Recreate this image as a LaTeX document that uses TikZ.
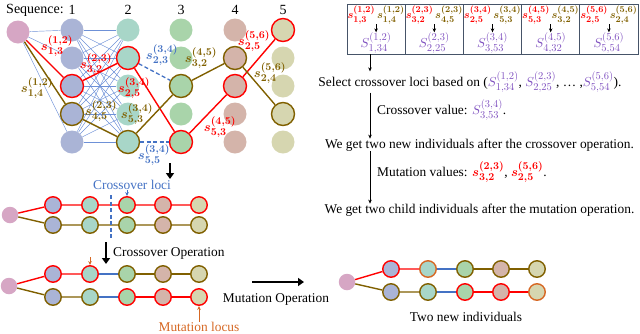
\documentclass[tikz,border=0pt]{standalone}
\usepackage{fontspec}
\setmainfont{Liberation Serif}
\usetikzlibrary{arrows.meta}
\DeclareFontShape{OML}{cmm}{m}{it}{<->cmmi10}{}
\DeclareFontShape{OML}{cmm}{b}{it}{<->cmmib10}{}
\DeclareFontShape{OT1}{cmr}{m}{n}{<->cmr10}{}
\DeclareFontShape{OT1}{cmr}{bx}{n}{<->cmbx10}{}
\DeclareFontShape{OMS}{cmsy}{m}{n}{<->cmsy10}{}
\DeclareFontShape{OMS}{cmsy}{b}{n}{<->cmbsy10}{}
\DeclareMathSizes{13}{13}{10.5}{7.5}
\DeclareMathSizes{11}{11}{9}{6.5}
\definecolor{rd}{RGB}{255,0,0}
\definecolor{br}{RGB}{128,96,0}
\definecolor{blu}{RGB}{68,114,196}
\definecolor{blt}{RGB}{110,145,215}
\definecolor{pu}{RGB}{128,82,192}
\definecolor{orng}{RGB}{214,104,36}
\definecolor{boxc}{RGB}{70,84,104}
\definecolor{cst}{RGB}{214,166,196}
\definecolor{col1}{RGB}{170,180,214}
\definecolor{col2}{RGB}{168,214,200}
\definecolor{col3}{RGB}{169,212,170}
\definecolor{col4}{RGB}{212,180,170}
\definecolor{col5}{RGB}{214,214,176}
\newcommand\tf{\fontsize{13.4}{16}\selectfont}
\newcommand\mth[1]{{\fontsize{13}{16}\selectfont$#1$}}
\newcommand\bmth[1]{{\fontsize{13}{16}\selectfont\boldmath$#1$}}
\begin{document}
\begin{tikzpicture}[x=1pt,y=-1pt,
 nd/.style={circle,minimum size=23pt,inner sep=0pt},
 sm/.style={circle,minimum size=16.5pt,inner sep=0pt},
 rb/.style={draw=rd,line width=1.4pt},
 bb/.style={draw=br,line width=1.4pt},
 ob/.style={draw=orng,line width=1.4pt},
 thinl/.style={draw=blt,line width=0.45pt},
 rl/.style={draw=rd,line width=1.4pt},
 brl/.style={draw=br,line width=1.4pt},
 bll/.style={draw=blu,line width=1.2pt},
 bdl/.style={draw=blu,line width=1.3pt,dash pattern=on 4pt off 2.5pt},
 lab/.style={inner sep=0pt,font=\fontsize{13}{15}\selectfont\boldmath},
 clab/.style={inner sep=0pt,font=\fontsize{11}{13}\selectfont\boldmath},
 plab/.style={inner sep=0pt,text=pu,font=\fontsize{13}{15}\selectfont},
 txt/.style={inner sep=0pt,font=\tf},
 cell/.style={draw=boxc,line width=0.8pt,minimum width=58.2pt,minimum height=50pt,inner sep=0pt},
 bigarr/.style={line width=2.6pt,-{Triangle[width=8pt,length=6pt]}},
 sarr/.style={-{Stealth[length=4pt,width=3.5pt]},line width=0.6pt},
]
\useasboundingbox (0,0) rectangle (640,333);
% ---------- header
\node[txt,font=\fontsize{14}{16}\selectfont] (seq) at (35,10) {Sequence:};
\foreach \c/\x in {1/72,2/128,3/181,4/235,5/283}
  \node[txt,font=\fontsize{14}{16}\selectfont] (h\c) at (\x,10) {\c};
% ---------- network nodes
\node[nd,fill=cst] (st) at (18,32) {};
\node[nd,fill=col1] (n11) at (72,30) {};
\node[nd,fill=col1] (n12) at (72,58) {};
\node[nd,fill=col1,rb] (n13) at (72,86) {};
\node[nd,fill=col1,bb] (n14) at (72,114) {};
\node[nd,fill=col1] (n15) at (72,142) {};
\node[nd,fill=col2] (n21) at (128,30) {};
\node[nd,fill=col2,rb] (n22) at (128,58) {};
\node[nd,fill=col2] (n23) at (128,86) {};
\node[nd,fill=col2] (n24) at (128,114) {};
\node[nd,fill=col2,bb] (n25) at (128,142) {};
\node[nd,fill=col3] (n31) at (181,30) {};
\node[nd,fill=col3] (n32) at (181,58) {};
\node[nd,fill=col3,bb] (n33) at (181,86) {};
\node[nd,fill=col3] (n34) at (181,114) {};
\node[nd,fill=col3,rb] (n35) at (181,142) {};
\node[nd,fill=col4] (n41) at (235,30) {};
\node[nd,fill=col4,bb] (n42) at (235,58) {};
\node[nd,fill=col4,rb] (n43) at (235,86) {};
\node[nd,fill=col4] (n44) at (235,114) {};
\node[nd,fill=col4] (n45) at (235,142) {};
\node[nd,fill=col5,rb] (n51) at (283,30) {};
\node[nd,fill=col5] (n52) at (283,58) {};
\node[nd,fill=col5] (n53) at (283,86) {};
\node[nd,fill=col5,bb] (n54) at (283,114) {};
\node[nd,fill=col5] (n55) at (283,142) {};
% thin lines
\foreach \i in {1,...,5} {
  \draw[thinl] (st) -- (n1\i);
  \foreach \j in {1,...,5} \draw[thinl] (n1\i) -- (n2\j);
}
% dashed blue
\draw[bdl] (n22) -- (n33);
\draw[bdl] (n25) -- (n35);
% paths
\draw[rl] (st) -- (n13) -- (n22) -- (n35) -- (n43) -- (n51);
\draw[brl] (st) -- (n14) -- (n25) -- (n33) -- (n42) -- (n54);
% labels
\node[lab,text=rd] (l1) at (57,46) {$s^{(1,2)}_{1,3}$};
\node[lab,text=br] (l2) at (37,88) {$s^{(1,2)}_{1,4}$};
\node[lab,text=rd] (l3) at (96,64) {$s^{(2,3)}_{3,2}$};
\node[lab,text=br] (l4) at (101,111) {$s^{(2,3)}_{4,5}$};
\node[lab,text=rd] (l5) at (134,88) {$s^{(3,4)}_{2,5}$};
\node[lab,text=br] (l6) at (137,114) {$s^{(3,4)}_{5,3}$};
\node[lab,text=blu] (l7) at (162,55) {$s^{(3,4)}_{2,3}$};
\node[lab,text=blu] (l8) at (154,155) {$s^{(3,4)}_{5,5}$};
\node[lab,text=br] (l9) at (201,58) {$s^{(4,5)}_{3,2}$};
\node[lab,text=rd] (l10) at (220,127) {$s^{(4,5)}_{5,3}$};
\node[lab,text=rd] (l11) at (254,41) {$s^{(5,6)}_{2,5}$};
\node[lab,text=br] (l12) at (270,73) {$s^{(5,6)}_{2,4}$};
% big arrow down
\coordinate (ba1) at (170,163);
\coordinate (ba2) at (170,179);
\draw[bigarr] (ba1) -- (ba2);
% ---------- pair 1
\node[sm,fill=cst] (p1) at (10,215) {};
\foreach \i/\x in {1/53,2/90,3/127,4/163,5/199} {
  \node[sm,fill=col\i,rb] (a\i) at (\x,205) {};
  \node[sm,fill=col\i,bb] (b\i) at (\x,225) {};
}
\draw[rl] (p1) -- (a1) -- (a2) -- (a3) -- (a4) -- (a5);
\draw[brl] (p1) -- (b1) -- (b2) -- (b3) -- (b4) -- (b5);
\coordinate (cl1) at (111,195);
\coordinate (cl2) at (111,238);
\draw[bdl] (cl1) -- (cl2);
\node[txt,text=blu] (clt) at (132,185) {Crossover loci};
\draw[sarr,blu] (clt.south -| a3) -- (a3.north);
% crossover operation
\coordinate (co1) at (106,242);
\coordinate (co2) at (106,264);
\draw[bigarr] (co1) -- (co2);
\node[txt,anchor=west] (cot) at (113,253) {Crossover Operation};
% ---------- pair 2
\node[sm,fill=cst] (p2) at (9,286) {};
\node[sm,fill=col1,rb] (c1) at (53,274) {};
\node[sm,fill=col2,rb] (c2) at (90,274) {};
\node[sm,fill=col3,bb] (c3) at (127,274) {};
\node[sm,fill=col4,bb] (c4) at (163,274) {};
\node[sm,fill=col5,bb] (c5) at (199,274) {};
\node[sm,fill=col1,bb] (d1) at (53,297) {};
\node[sm,fill=col2,bb] (d2) at (90,297) {};
\node[sm,fill=col3,rb] (d3) at (127,297) {};
\node[sm,fill=col4,rb] (d4) at (163,297) {};
\node[sm,fill=col5,rb] (d5) at (199,297) {};
\draw[rl] (p2) -- (c1) -- (c2);
\draw[bll] (c2) -- (c3);
\draw[brl] (c3) -- (c4) -- (c5);
\draw[brl] (p2) -- (d1) -- (d2);
\draw[bll] (d2) -- (d3);
\draw[rl] (d3) -- (d4) -- (d5);
\coordinate (m1) at (90,257);
\draw[sarr,orng] (m1) -- (c2.north);
\node[txt,text=orng] (ml) at (199,327) {Mutation locus};
\draw[sarr,orng] (ml.north) -- (d5.south);
% mutation operation
\coordinate (mo1) at (252,282);
\coordinate (mo2) at (304,282);
\draw[bigarr] (mo1) -- (mo2);
\node[txt] (mot) at (276,299) {Mutation Operation};
% ---------- pair 3
\node[sm,fill=cst] (p3) at (347,282) {};
\node[sm,fill=col1,rb] (e1) at (391,269) {};
\node[sm,fill=col2,ob] (e2) at (428,269) {};
\node[sm,fill=col3,bb] (e3) at (465,269) {};
\node[sm,fill=col4,bb] (e4) at (501,269) {};
\node[sm,fill=col5,bb] (e5) at (537,269) {};
\node[sm,fill=col1,bb] (f1) at (391,292) {};
\node[sm,fill=col2,bb] (f2) at (428,292) {};
\node[sm,fill=col3,rb] (f3) at (465,292) {};
\node[sm,fill=col4,rb] (f4) at (501,292) {};
\node[sm,fill=col5,ob] (f5) at (537,292) {};
\draw[rl] (p3) -- (e1) -- (e2);
\draw[bll] (e2) -- (e3);
\draw[brl] (e3) -- (e4) -- (e5);
\draw[brl] (p3) -- (f1) -- (f2);
\draw[bll] (f2) -- (f3);
\draw[rl] (f3) -- (f4) -- (f5);
\node[txt] (tni) at (466,317) {Two new individuals};
% ---------- box cells
\foreach \k/\cx/\sup/\ra/\ba/\pa in {
  1/376.1/{(1,2)}/{1,3}/{1,4}/{1,34},
  2/434.3/{(2,3)}/{3,2}/{4,5}/{2,25},
  3/492.5/{(3,4)}/{2,5}/{5,3}/{3,53},
  4/550.7/{(4,5)}/{5,3}/{3,2}/{4,32},
  5/608.9/{(5,6)}/{2,5}/{2,4}/{5,54}} {
  \node[cell] (k\k) at (\cx,29) {};
  \node[clab] (t\k) at (\cx,15) {\textcolor{rd}{$s^{\sup}_{\ra}$}\,\textcolor{br}{$s^{\sup}_{\ba}$}};
  \node[plab] (u\k) at (\cx,43) {$S^{\sup}_{\pa}$};
  \draw[sarr] (t\k.south) -- (u\k.north);
}
% ---------- right text
\coordinate (ax) at (370,0);
\node[txt] (sel) at (470,82) {Select crossover loci based on (\textcolor{pu}{\mth{S^{(1,2)}_{1,34}}}, \textcolor{pu}{\mth{S^{(2,3)}_{2,25}}}, … ,\textcolor{pu}{\mth{S^{(5,6)}_{5,54}}}).};
\node[txt,anchor=west] (cv) at (377,110) {Crossover value: \textcolor{pu}{\mth{S^{(3,4)}_{3,53}}}.};
\node[txt] (new) at (479.5,145) {We get two new individuals after the crossover operation.};
\node[txt,anchor=west] (mv) at (377,172) {Mutation values: \textcolor{rd}{\bmth{s^{(2,3)}_{3,2}}}, \textcolor{rd}{\bmth{s^{(5,6)}_{2,5}}}.};
\node[txt] (child) at (479.5,210) {We get two child individuals after the mutation operation.};
\draw[sarr] (k1.south -| ax) -- (sel.north -| ax);
\draw[sarr] (sel.south -| ax) -- (new.north -| ax);
\draw[sarr] (new.south -| ax) -- (child.north -| ax);
\end{tikzpicture}
\end{document}
